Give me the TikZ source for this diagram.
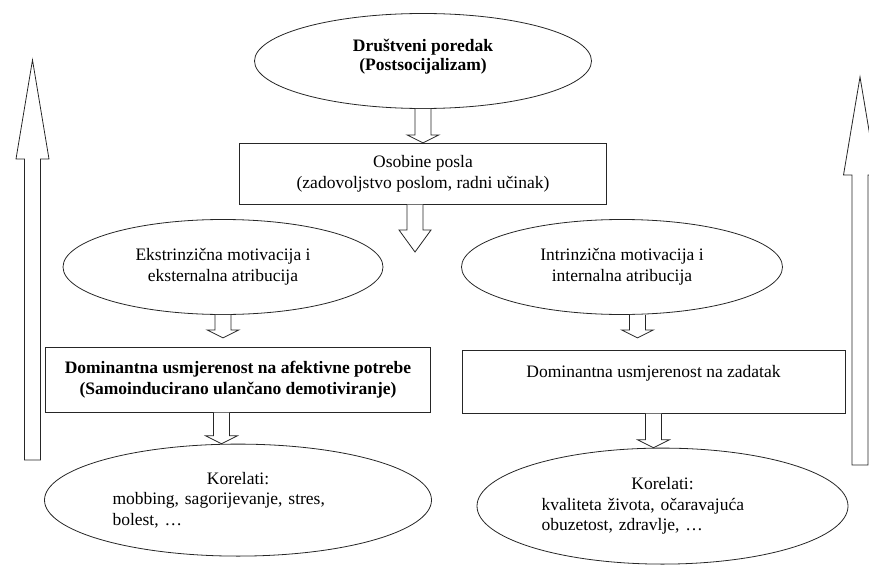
\documentclass[tikz,border=0pt]{standalone}
\usepackage{fontspec}
\setmainfont{Liberation Serif}
\usetikzlibrary{calc}
\usetikzlibrary{positioning}
\usetikzlibrary{shapes.geometric}

\newcommand{\fatarrow}[3][8]{%
  \draw[fatline] let \p1=(#2), \p2=(#3) in
    (\x1-8pt,\y1) -- (\x1-8pt,\y2+#1pt) -- (\x1-16pt,\y2+#1pt) -- (\x1,\y2)
    -- (\x1+16pt,\y2+#1pt) -- (\x1+8pt,\y2+#1pt) -- (\x1+8pt,\y1);}

\begin{document}
\begin{tikzpicture}[
        x=1pt, y=-1pt,
        every node/.append style={draw=black!85, line width=.8pt, align=center, inner sep=0pt,
            font=\fontsize{17.5}{20.5}\selectfont},
        oval/.style={ellipse},
        box/.style={rectangle},
        fatline/.style={draw=black!85, line width=.8pt, fill=white}
    ]
        \useasboundingbox (0,0) rectangle (869,567);

        \node[oval, minimum width=337pt, minimum height=95pt, text depth=12pt] (soc) at (423,61)
            {\textbf{Društveni poredak}\\[-2pt]\textbf{(Postsocijalizam)}};
        \node[box, minimum width=367pt, minimum height=61pt, below=34pt of soc] (osob)
            {Osobine posla\\(zadovoljstvo poslom, radni učinak)};
        \node[oval, minimum width=320pt, minimum height=95pt] (ekst) at (223,267)
            {Ekstrinzična motivacija i\\eksternalna atribucija};
        \node[oval, minimum width=321pt, minimum height=95pt] (intr) at (622,267)
            {Intrinzična motivacija i\\internalna atribucija};
        \node[box, minimum width=385pt, minimum height=65pt, below=32pt of ekst, xshift=15pt] (domL)
            {\textbf{Dominantna usmjerenost na afektivne potrebe}\\\textbf{(Samoinducirano ulančano demotiviranje)}};
        \node[box, minimum width=383pt, minimum height=63pt, below=35pt of intr, xshift=31.5pt] (domR)
            {Dominantna usmjerenost na zadatak\\\mbox{}};
        \node[oval, minimum width=387pt, minimum height=112pt, below=31pt of domL, text width=251pt, align=left] (korL)
            {\makebox[251pt]{Korelati:}\\mobbing, sagorijevanje, stres,\\bolest, …};
        \node[oval, minimum width=371pt, minimum height=116pt, below=34pt of domR, xshift=9pt, text width=242pt, align=left] (korR)
            {\makebox[242pt]{Korelati:}\\kvaliteta života, očaravajuća\\obuzetost, zdravlje, …};
        \coordinate (split) at (415,252);

        \fatarrow{soc.south}{osob.north}
        \fatarrow[22]{$(osob.south)+(-8,0)$}{split}
        \fatarrow{ekst.south}{$(domL.north)+(0,-9)$}
        \fatarrow{$(domL.south)+(-16.5,0)$}{korL.north}
        \fatarrow{$(intr.south)+(15.5,0)$}{$(domR.north)+(0,-12)$}
        \fatarrow{domR.south}{korR.north}

        \draw[fatline] (24.5,460) -- (24.5,159) -- (16,159) -- (32.5,60) -- (49,159) -- (40.5,159) -- (40.5,460) -- cycle;
        \draw[fatline] (852,465) -- (852,175) -- (843.5,175) -- (860,77) -- (876.5,175) -- (868,175) -- (868,465) -- cycle;
    \end{tikzpicture}
\end{document}
